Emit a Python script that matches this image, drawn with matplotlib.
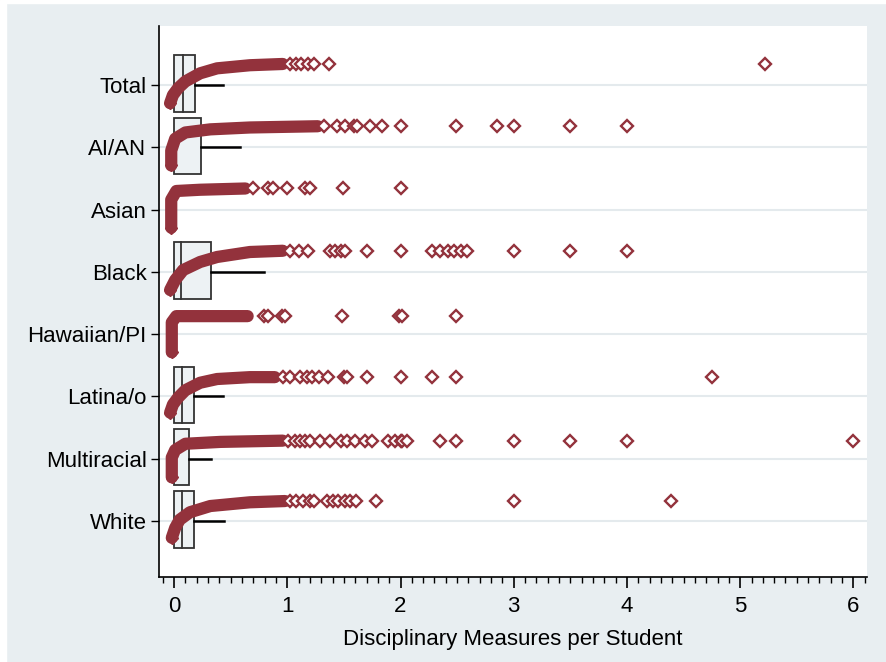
import numpy as np
import matplotlib
matplotlib.use("Agg")
import matplotlib.pyplot as plt
from matplotlib.ticker import MultipleLocator
from matplotlib.patches import Rectangle

plt.rcParams['font.family'] = ['Liberation Sans', 'DejaVu Sans']

### data
categories = ['Total', 'AI/AN', 'Asian', 'Black', 'Hawaiian/PI', 'Latina/o', 'Multiracial', 'White']

box_q1 = [0.0, 0.0, 0.0, 0.0, 0.0, 0.0, 0.0, 0.0]
box_med = [0.08, 0.0, 0.0, 0.06, 0.0, 0.07, 0.0, 0.07]
box_q3 = [0.185, 0.24, 0.0, 0.33, 0.0, 0.18, 0.135, 0.18]
whisk_hi = [0.43, 0.58, 0.0, 0.79, 0.0, 0.43, 0.33, 0.44]

# dense band of stacked outliers: (x, vertical offset in category units)
band_x = {
    'Total':       [-0.035, -0.01, 0.035, 0.10, 0.23, 0.38, 0.67, 0.96],
    'AI/AN':       [-0.025, -0.025, 0.01, 0.10, 0.32, 0.67, 1.27],
    'Asian':       [-0.025, -0.025, 0.02, 0.23, 0.63],
    'Black':       [-0.035, 0.01, 0.08, 0.23, 0.38, 0.67, 0.96],
    'Hawaiian/PI': [-0.02, -0.02, 0.02, 0.23, 0.65],
    'Latina/o':    [-0.035, -0.01, 0.035, 0.10, 0.23, 0.38, 0.67, 0.89],
    'Multiracial': [-0.02, -0.02, 0.01, 0.10, 0.41, 0.96],
    'White':       [-0.02, 0.01, 0.05, 0.14, 0.32, 0.67, 0.98],
}
band_dy = {
    'Total':       [0.29, 0.16, 0.05, -0.06, -0.19, -0.27, -0.32, -0.34],
    'AI/AN':       [0.29, 0.05, -0.14, -0.24, -0.29, -0.32, -0.34],
    'Asian':       [0.29, -0.16, -0.30, -0.32, -0.34],
    'Black':       [0.29, 0.13, -0.03, -0.16, -0.24, -0.32, -0.34],
    'Hawaiian/PI': [0.29, -0.19, -0.29, -0.29, -0.29],
    'Latina/o':    [0.26, 0.13, 0.02, -0.10, -0.22, -0.28, -0.31, -0.31],
    'Multiracial': [0.30, -0.02, -0.14, -0.24, -0.27, -0.29],
    'White':       [0.27, 0.11, -0.02, -0.14, -0.24, -0.30, -0.32],
}

# separate hollow outlier markers
outliers = {
    'Total':       [1.02, 1.08, 1.12, 1.18, 1.24, 1.37, 5.22],
    'AI/AN':       [1.32, 1.44, 1.51, 1.59, 1.62, 1.73, 1.84, 2.0, 2.49, 2.85, 3.0, 3.5, 4.0],
    'Asian':       [0.70, 0.83, 0.87, 1.0, 1.16, 1.2, 1.49, 2.0],
    'Black':       [1.02, 1.10, 1.18, 1.38, 1.42, 1.47, 1.51, 1.70, 2.0, 2.28, 2.35,
                    2.42, 2.47, 2.53, 2.59, 3.0, 3.5, 4.0],
    'Hawaiian/PI': [0.79, 0.83, 0.95, 0.98, 1.48, 1.99, 2.01, 2.49],
    'Latina/o':    [0.96, 1.02, 1.11, 1.17, 1.22, 1.28, 1.36, 1.50, 1.53, 1.70, 2.0,
                    2.28, 2.49, 4.75],
    'Multiracial': [1.01, 1.07, 1.11, 1.16, 1.20, 1.29, 1.38, 1.47, 1.53, 1.60, 1.69,
                    1.75, 1.89, 1.95, 2.0, 2.01, 2.06, 2.35, 2.49, 3.0, 3.5, 4.0, 6.0],
    'White':       [1.02, 1.08, 1.14, 1.20, 1.24, 1.35, 1.40, 1.45, 1.51, 1.55, 1.61,
                    1.78, 3.0, 4.39],
}

red = '#93323c'
bg = '#e8eef1'

fig = plt.figure(figsize=(8.86, 6.62), dpi=100, facecolor=bg)
# thin white frame at left/top edge of the original image
fig.patches.append(Rectangle((0, 0), 6 / 886, 1, transform=fig.transFigure, color='white', zorder=-1))
fig.patches.append(Rectangle((0, 1 - 3 / 662), 1, 3 / 662, transform=fig.transFigure, color='white', zorder=-1))

ax = fig.add_axes([159 / 886, 1 - 577 / 662, (867 - 159) / 886, (577 - 26) / 662])
ax.set_facecolor('white')

ypos = np.arange(len(categories))
for i, cat in enumerate(categories):
    ax.axhline(i, color='#e4eaed', lw=1.5, zorder=0)

    # box + whisker
    if box_q3[i] > box_q1[i]:
        ax.add_patch(Rectangle((box_q1[i], i - 0.48), box_q3[i] - box_q1[i], 0.91,
                               facecolor='#edf2f4', edgecolor='#333333', lw=1.3, zorder=1))
        if box_med[i] > box_q1[i]:
            ax.plot([box_med[i], box_med[i]], [i - 0.48, i + 0.43], color='#333333', lw=1.3, zorder=1)
        ax.plot([box_q3[i], whisk_hi[i]], [i, i], color='black', lw=1.8, zorder=1)

    # dense band of outliers
    by = i + np.array(band_dy[cat])
    ax.plot(band_x[cat], by, color=red, lw=8.8, solid_capstyle='round',
            solid_joinstyle='round', zorder=3)
    ax.plot(band_x[cat][0], by[0], marker='D', ms=6.5, color=red, zorder=3)

    # single outliers
    oy = np.full(len(outliers[cat]), i + band_dy[cat][-1])
    ax.plot(outliers[cat], oy, ls='none', marker='D', ms=5.8, mfc='white',
            mec=red, mew=1.7, zorder=4)

ax.set_xlim(-0.133, 6.12)
ax.set_ylim(len(categories) - 0.1, -0.95)

ax.set_yticks(ypos)
ax.set_yticklabels(categories, fontsize=16)
ax.set_xticks(np.arange(0, 7))
ax.xaxis.set_minor_locator(MultipleLocator(0.1))
ax.tick_params(axis='x', which='major', length=8, width=1.2, labelsize=16, pad=6)
ax.tick_params(axis='x', which='minor', length=4, width=1.0)
ax.tick_params(axis='y', length=6, width=1.0, pad=3)
ax.set_xlabel('Disciplinary Measures per Student', fontsize=16, labelpad=8)

for s in ['top', 'right']:
    ax.spines[s].set_visible(False)
ax.spines['left'].set_linewidth(1.2)
ax.spines['bottom'].set_linewidth(1.2)

fig.savefig('out.png', dpi=100, facecolor=bg)
